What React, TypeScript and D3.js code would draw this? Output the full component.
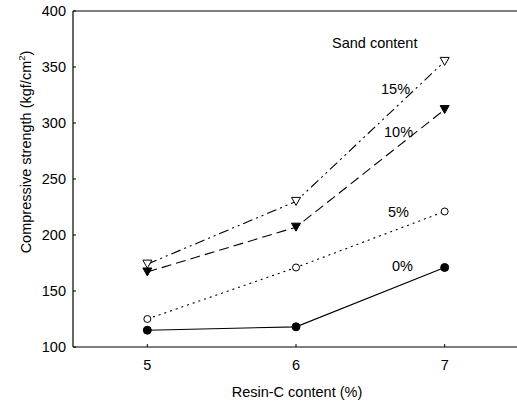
import React from 'react';
import * as d3 from 'd3';

const resin = [5, 6, 7];
const sand0 = [115, 118, 171];
const sand5 = [125, 171, 221];
const sand10 = [167, 207, 312];
const sand15 = [174, 230, 355];
const yTicks = [100, 150, 200, 250, 300, 350, 400];
const xTicks = [5, 6, 7];
const seriesLabels = ['0%', '5%', '10%', '15%'];

const W = 517;
const H = 407;
const margin = { top: 11, right: -2, bottom: 60, left: 73 };
const FS = 14.5;

export default function App() {
  const x = d3.scaleLinear().domain([4.5, 7.5]).range([margin.left, W - margin.right]);
  const y = d3.scaleLinear().domain([100, 400]).range([H - margin.bottom, margin.top]);
  const line = d3
    .line<number>()
    .x((d, i) => x(resin[i]))
    .y(d => y(d));

  const series = [
    { vals: sand0, dash: null, mark: 'dot', fill: true, label: seriesLabels[0], lx: 392, ly: 271 },
    { vals: sand5, dash: '2,4', mark: 'dot', fill: false, label: seriesLabels[1], lx: 388, ly: 217 },
    { vals: sand10, dash: '10,5', mark: 'tri', fill: true, label: seriesLabels[2], lx: 384, ly: 137 },
    { vals: sand15, dash: '10,4,2,4,2,4', mark: 'tri', fill: false, label: seriesLabels[3], lx: 381, ly: 94 },
  ];

  const font = "'Liberation Sans', Arial, sans-serif";

  return (
    <svg
      width={W}
      height={H}
      style={{ position: 'absolute', left: 0, top: 0, background: '#fff' }}
      fontFamily={font}
    >
      {/* frame: left, top, bottom */}
      <line x1={margin.left} x2={margin.left} y1={y(400)} y2={y(100)} stroke="#000" strokeWidth={1.2} />
      <line x1={margin.left} x2={W} y1={y(400)} y2={y(400)} stroke="#000" strokeWidth={1.2} />
      <line x1={margin.left} x2={W} y1={y(100)} y2={y(100)} stroke="#000" strokeWidth={1.2} />

      {yTicks.map(t => (
        <g key={t}>
          <line x1={margin.left} x2={margin.left + 3} y1={y(t)} y2={y(t)} stroke="#000" />
          <text x={margin.left - 7} y={y(t)} dy="0.36em" textAnchor="end" fontSize={FS}>
            {t}
          </text>
        </g>
      ))}
      {xTicks.map(t => (
        <g key={t}>
          <line x1={x(t)} x2={x(t)} y1={y(100)} y2={y(100) - 3} stroke="#000" />
          <text x={x(t)} y={y(100) + 23} textAnchor="middle" fontSize={FS}>
            {t}
          </text>
        </g>
      ))}

      <text x={297} y={397} textAnchor="middle" fontSize={FS}>
        Resin-C content (%)
      </text>
      <text transform={`translate(31,152) rotate(-90)`} textAnchor="middle" fontSize={FS}>
        Compressive strength (kgf/cm<tspan dy="-6" fontSize={9.5}>2</tspan><tspan dy="6">)</tspan>
      </text>

      {series.map((s, si) => (
        <g key={si}>
          <path
            d={line(s.vals) || ''}
            fill="none"
            stroke="#000"
            strokeWidth={1.1}
            strokeDasharray={s.dash || undefined}
          />
          {s.vals.map((v, i) =>
            s.mark === 'dot' ? (
              <circle
                key={i}
                cx={x(resin[i])}
                cy={y(v)}
                r={s.fill ? 4 : 3.5}
                fill={s.fill ? '#000' : '#fff'}
                stroke="#000"
              />
            ) : (
              <path
                key={i}
                transform={`translate(${x(resin[i])},${y(v)})`}
                d="M-4.5,-4 L4.5,-4 L0,4 Z"
                fill={s.fill ? '#000' : '#fff'}
                stroke="#000"
              />
            )
          )}
          <text x={s.lx} y={s.ly} fontSize={FS}>
            {s.label}
          </text>
        </g>
      ))}

      <text x={332} y={48} fontSize={FS}>
        Sand content
      </text>
    </svg>
  );
}
